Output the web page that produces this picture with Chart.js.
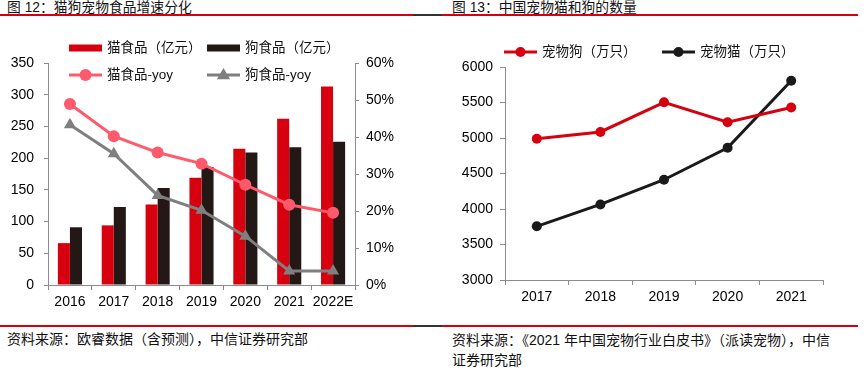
<!DOCTYPE html>
<html>
<head>
<meta charset="utf-8">
<script src="https://cdn.jsdelivr.net/npm/chart.js@4/dist/chart.umd.min.js"></script>
<style>
  body { margin: 0; width: 865px; height: 368px; background: #fff; position: relative; overflow: hidden;
         font-family: "Liberation Sans", "Noto Sans CJK SC", sans-serif; color: #111; }
  .title { position: absolute; top: 0; font-size: 13.8px; line-height: 15px; white-space: nowrap; }
  .source { position: absolute; font-size: 14px; line-height: 20px; white-space: nowrap; }
  .rule { position: absolute; height: 2px; }
  canvas { position: absolute; }
</style>
</head>
<body>
<div class="title" style="left:7px">图 12：猫狗宠物食品增速分化</div>
<div class="title" style="left:452px">图 13：中国宠物猫和狗的数量</div>

<div class="rule" style="top:14px;left:0;width:413px;background:#d7000f"></div>
<div class="rule" style="top:14px;left:413px;width:29px;background:#333"></div>
<div class="rule" style="top:14px;left:442px;width:416px;background:#d7000f"></div>
<div class="rule" style="top:325px;left:0;width:413px;background:#d7000f"></div>
<div class="rule" style="top:325px;left:413px;width:29px;background:#333"></div>
<div class="rule" style="top:325px;left:442px;width:416px;background:#d7000f"></div>

<canvas id="food-chart" width="430" height="300" style="left:0;top:20px"></canvas>
<canvas id="pet-chart" width="430" height="300" style="left:435px;top:20px"></canvas>

<div class="source" style="left:7px;top:329px">资料来源：欧睿数据（含预测），中信证券研究部</div>
<div class="source" style="left:452px;top:330px">资料来源：《2021 年中国宠物行业白皮书》（派读宠物），中信<br>证券研究部</div>

<script>
// Figure 12 data
const foodYears = ["2016", "2017", "2018", "2019", "2020", "2021", "2022E"];
const catFood = [66, 94, 127, 169, 215, 262, 313];
const dogFood = [91, 123, 153, 186, 209, 217, 226];
const catFoodYoy = [48.9, 40.2, 35.8, 32.8, 27.1, 21.7, 19.5];
const dogFoodYoy = [43.3, 35.5, 24.2, 20.2, 13.2, 3.8, 3.8];
const foodTicks = [0, 50, 100, 150, 200, 250, 300, 350];
const yoyTicks = [0, 10, 20, 30, 40, 50, 60];

// Figure 13 data
const petYears = ["2017", "2018", "2019", "2020", "2021"];
const petDogs = [4990, 5085, 5503, 5222, 5429];
const petCats = [3756, 4064, 4412, 4862, 5806];
const petTicks = [3000, 3500, 4000, 4500, 5000, 5500, 6000];

const RED = "#d7000f";
const DARK = "#231815";
const PINK = "#ff5a6b";
const GREY = "#7f7f7f";
const AXIS = "#8c8c8c";
const tickFont = { family: "'Liberation Sans', 'Noto Sans CJK SC'", size: 14 };

// Legend drawn by hand: bar boxes or line + marker
const handLegend = {
    id: "handLegend",
    afterDraw(chart, args, opts) {
        const ctx = chart.ctx;
        ctx.save();
        ctx.font = "13.5px 'Liberation Sans', 'Noto Sans CJK SC'";
        ctx.textBaseline = "middle";
        opts.items.forEach(item => {
            const ds = chart.data.datasets[item.index];
            const color = ds.borderColor || ds.backgroundColor;
            if (item.kind === "box") {
                ctx.fillStyle = ds.backgroundColor;
                ctx.fillRect(item.x, item.y - 3.5, 33, 7);
            } else {
                ctx.strokeStyle = color;
                ctx.lineWidth = ds.borderWidth;
                ctx.beginPath();
                ctx.moveTo(item.x, item.y);
                ctx.lineTo(item.x + 33, item.y);
                ctx.stroke();
                const cx = item.x + 16.5, r = ds.pointRadius;
                ctx.fillStyle = ds.pointBackgroundColor || color;
                ctx.beginPath();
                if (ds.pointStyle === "triangle") {
                    ctx.moveTo(cx, item.y - r);
                    ctx.lineTo(cx + r * 0.95, item.y + r * 0.6);
                    ctx.lineTo(cx - r * 0.95, item.y + r * 0.6);
                    ctx.closePath();
                } else {
                    ctx.arc(cx, item.y, r, 0, Math.PI * 2);
                }
                ctx.fill();
            }
            ctx.fillStyle = "#111";
            ctx.fillText(ds.label, item.x + 38, item.y + 0.5);
        });
        ctx.restore();
    }
};

function axisGrid(len) {
    return { drawOnChartArea: false, drawTicks: true, tickLength: len, color: AXIS, lineWidth: 1 };
}

new Chart(document.querySelector("#food-chart"), {
    type: "bar",
    data: {
        labels: foodYears,
        datasets: [
            { type: "line", label: "猫食品-yoy", data: catFoodYoy, yAxisID: "y1", order: 0,
              borderColor: PINK, backgroundColor: PINK, pointBackgroundColor: PINK, borderWidth: 3,
              pointStyle: "circle", pointRadius: 6, pointBorderWidth: 0 },
            { type: "line", label: "狗食品-yoy", data: dogFoodYoy, yAxisID: "y1", order: 0,
              borderColor: GREY, backgroundColor: GREY, pointBackgroundColor: GREY, borderWidth: 3,
              pointStyle: "triangle", pointRadius: 7, pointBorderWidth: 0 },
            { label: "猫食品（亿元）", data: catFood, yAxisID: "y", order: 1, backgroundColor: RED,
              categoryPercentage: 0.55, barPercentage: 1 },
            { label: "狗食品（亿元）", data: dogFood, yAxisID: "y", order: 1, backgroundColor: DARK,
              categoryPercentage: 0.55, barPercentage: 1 }
        ]
    },
    options: {
        responsive: false,
        animation: false,
        devicePixelRatio: 1,
        layout: { padding: { top: 43, left: 0, right: 0, bottom: 0 } },
        plugins: {
            legend: { display: false },
            tooltip: { enabled: false },
            handLegend: { items: [
                { index: 2, kind: "box", x: 69, y: 28 },
                { index: 3, kind: "box", x: 207, y: 28 },
                { index: 0, kind: "line", x: 69, y: 55 },
                { index: 1, kind: "line", x: 207, y: 55 }
            ] }
        },
        scales: {
            x: {
                offset: true,
                grid: Object.assign(axisGrid(5), { offset: true }),
                border: { display: true, color: AXIS },
                ticks: { font: tickFont, color: "#000", padding: 4, maxRotation: 0 },
                afterFit: s => { s.height = 35; }
            },
            y: {
                position: "left",
                min: foodTicks[0], max: foodTicks[foodTicks.length - 1],
                afterBuildTicks: s => { s.ticks = foodTicks.map(v => ({ value: v })); },
                grid: axisGrid(4),
                border: { display: true, color: AXIS },
                ticks: { font: tickFont, color: "#000", padding: 10, callback: v => String(v) },
                afterFit: s => { s.width = 48; }
            },
            y1: {
                position: "right",
                min: yoyTicks[0], max: yoyTicks[yoyTicks.length - 1],
                afterBuildTicks: s => { s.ticks = yoyTicks.map(v => ({ value: v })); },
                grid: axisGrid(4),
                border: { display: true, color: AXIS },
                ticks: { font: tickFont, color: "#000", padding: 7, callback: v => v + "%" },
                afterFit: s => { s.width = 75; }
            }
        }
    },
    plugins: [handLegend]
});

new Chart(document.querySelector("#pet-chart"), {
    type: "line",
    data: {
        labels: petYears,
        datasets: [
            { label: "宠物狗（万只）", data: petDogs, borderColor: RED, backgroundColor: RED,
              pointBackgroundColor: RED, borderWidth: 3, pointStyle: "circle", pointRadius: 5, pointBorderWidth: 0 },
            { label: "宠物猫（万只）", data: petCats, borderColor: "#1a1a1a", backgroundColor: "#1a1a1a",
              pointBackgroundColor: "#1a1a1a", borderWidth: 3, pointStyle: "circle", pointRadius: 5, pointBorderWidth: 0 }
        ]
    },
    options: {
        responsive: false,
        animation: false,
        devicePixelRatio: 1,
        layout: { padding: { top: 47, left: 0, right: 42, bottom: 0 } },
        plugins: {
            legend: { display: false },
            tooltip: { enabled: false },
            handLegend: { items: [
                { index: 0, kind: "line", x: 69, y: 32 },
                { index: 1, kind: "line", x: 227, y: 32 }
            ] }
        },
        scales: {
            x: {
                offset: true,
                grid: Object.assign(axisGrid(5), { offset: true }),
                border: { display: true, color: AXIS },
                ticks: { font: tickFont, color: "#000", padding: 4, maxRotation: 0 },
                afterFit: s => { s.height = 40; }
            },
            y: {
                min: petTicks[0], max: petTicks[petTicks.length - 1],
                afterBuildTicks: s => { s.ticks = petTicks.map(v => ({ value: v })); },
                grid: axisGrid(5),
                border: { display: true, color: AXIS },
                ticks: { font: tickFont, color: "#000", padding: 7, callback: v => String(v) },
                afterFit: s => { s.width = 70; }
            }
        }
    },
    plugins: [handLegend]
});
</script>
</body>
</html>
